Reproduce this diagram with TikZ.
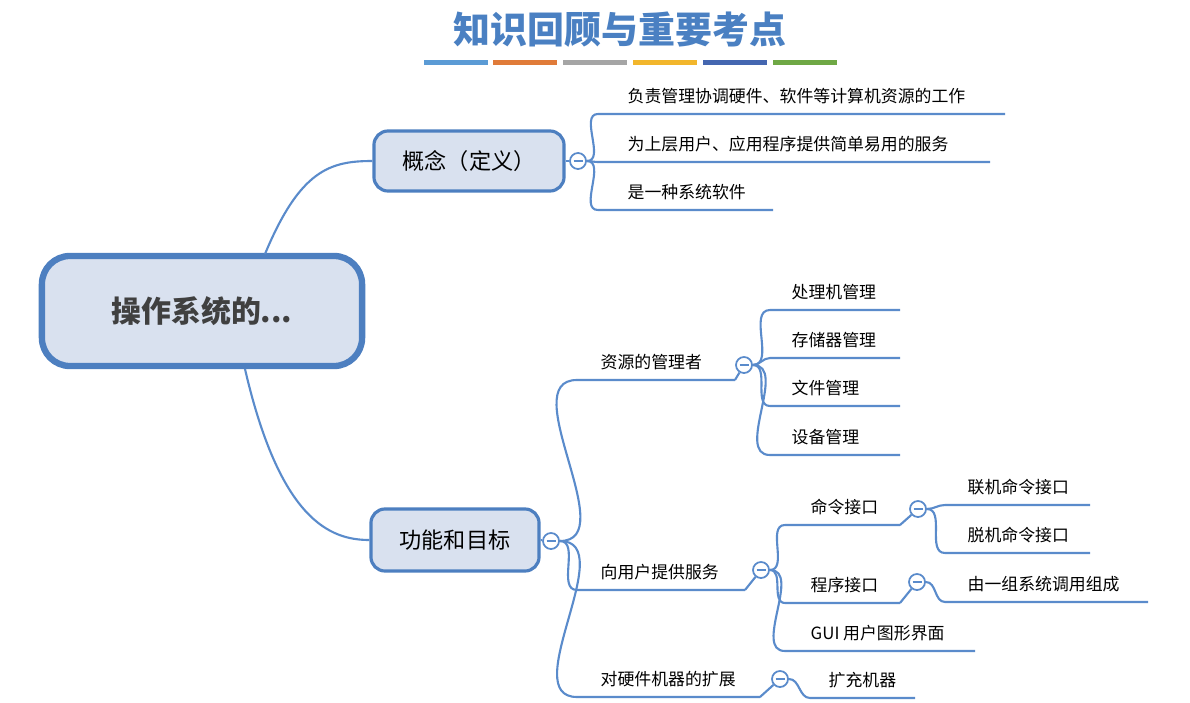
\documentclass[tikz,border=0pt]{standalone}
\usepackage{fontspec}
\setmainfont{Noto Sans CJK SC}
\begin{document}
\begin{tikzpicture}[x=0.01cm,y=-0.01cm,
  br/.style={draw=lnc,line width=0.6pt},
  lbl/.style={font=\fontsize{4.8}{5}\selectfont,inner sep=0pt},
  box/.style={draw=bc,fill=bf,rounded corners=4pt,line width=0.9pt,font=\fontsize{6.3}{7}\selectfont},
  tog/.style={circle,draw=lnc,fill=white,line width=0.5pt,minimum size=0.16cm,inner sep=0pt,
    path picture={\draw[lnc,line width=0.45pt] ([xshift=-0.045cm]path picture bounding box.center) -- ([xshift=0.045cm]path picture bounding box.center);}}]
\definecolor{lnc}{HTML}{5A8BCB}
\definecolor{bc}{HTML}{4D7FC0}
\definecolor{bf}{HTML}{D9E1EF}
\definecolor{tc}{HTML}{4A80C2}
\useasboundingbox (0,0) rectangle (1190,703);
% title
\node[text=tc,font=\fontsize{10.5}{12}\selectfont\bfseries] (title) at (620,30) {知识回顾与重要考点};
\foreach \a/\c in {424/5B9BD5,493/E07B39,563/A5A5A5,633/F2B62C,703/4466B0,773/6FA845}{
  \definecolor{tmp}{HTML}{\c}\fill[tmp] (\a,60) rectangle ++(64,5);}
% root
\node[draw=bc,fill=bf,rounded corners=8pt,line width=1.8pt,minimum width=3.2cm,minimum height=1.1cm,font=\fontsize{8.5}{10}\selectfont\bfseries,text=black!75] (root) at (202,311) {操作系统的...};
\node[box,minimum width=1.9cm,minimum height=0.6cm] (c1) at (469,161) {概念（定义）};
\node[box,minimum width=1.68cm,minimum height=0.62cm] (c2) at (455,540) {功能和目标};
\draw[br] (265,254) .. controls (300,170) and (330,161) .. (c1.west);
\draw[br] (245,369) .. controls (280,520) and (330,540) .. (c2.west);
% concept
\node[tog] (t1) at (578,161) {};
\draw[br] (c1.east) -- (t1);
\foreach \n/\y/\e/\t in {a/114/1005/负责管理协调硬件、软件等计算机资源的工作,b/162/990/为上层用户、应用程序提供简单易用的服务,c/210/773/是一种系统软件}{
  \coordinate (\n s) at (598,\y); \coordinate (\n e) at (\e,\y);
  \node[lbl,anchor=base west] (\n l) at (627,\y-12) {\t};
  \draw[br] (t1.east) to[out=0,in=180] (\n s) -- (\n e);}
% functions
\node[tog] (t2) at (551,541) {};
\draw[br] (c2.east) -- (t2);
\foreach \n/\y/\e/\t in {r/380/735/资源的管理者,u/590/745/向用户提供服务,h/697/760/对硬件机器的扩展}{
  \coordinate (\n s) at (577,\y); \coordinate (\n e) at (\e,\y);
  \node[lbl,anchor=base west] (\n l) at (600,\y-12) {\t};
  \draw[br] (t2.east) to[out=0,in=180] (\n s) -- (\n e);}
\node[tog] (tr) at (744,365) {};
\draw[br] (re) -- (tr);
\foreach \n/\y/\t in {r1/310/处理机管理,r2/358/存储器管理,r3/406/文件管理,r4/455/设备管理}{
  \coordinate (\n s) at (770,\y); \coordinate (\n e) at (900,\y);
  \node[lbl,anchor=base west] (\n l) at (791,\y-12) {\t};
  \draw[br] (tr.east) to[out=0,in=180] (\n s) -- (\n e);}
\node[tog] (tu) at (761,570) {};
\draw[br] (ue) -- (tu);
\foreach \n/\y/\e/\t in {u1/525/900/命令接口,u2/603/900/程序接口,u3/651/975/GUI 用户图形界面}{
  \coordinate (\n s) at (785,\y); \coordinate (\n e) at (\e,\y);
  \node[lbl,anchor=base west] (\n l) at (810,\y-12) {\t};
  \draw[br] (tu.east) to[out=0,in=180] (\n s) -- (\n e);}
\node[tog] (tc1) at (918,509) {};
\draw[br] (u1e) -- (tc1);
\foreach \n/\y/\e/\t in {k1/505/1090/联机命令接口,k2/553/1090/脱机命令接口}{
  \coordinate (\n s) at (945,\y); \coordinate (\n e) at (\e,\y);
  \node[lbl,anchor=base west] (\n l) at (967,\y-12) {\t};
  \draw[br] (tc1.east) to[out=0,in=180] (\n s) -- (\n e);}
\node[tog] (tc2) at (917,582) {};
\draw[br] (u2e) -- (tc2);
\coordinate (p1s) at (945,602); \coordinate (p1e) at (1148,602);
\node[lbl,anchor=base west] (p1l) at (967,590) {由一组系统调用组成};
\draw[br] (tc2.east) to[out=0,in=180] (p1s) -- (p1e);
\node[tog] (th) at (780,679) {};
\draw[br] (he) -- (th);
\coordinate (x1s) at (810,698); \coordinate (x1e) at (915,698);
\node[lbl,anchor=base west] (x1l) at (828,686) {扩充机器};
\draw[br] (th.east) to[out=0,in=180] (x1s) -- (x1e);
\end{tikzpicture}
\end{document}
